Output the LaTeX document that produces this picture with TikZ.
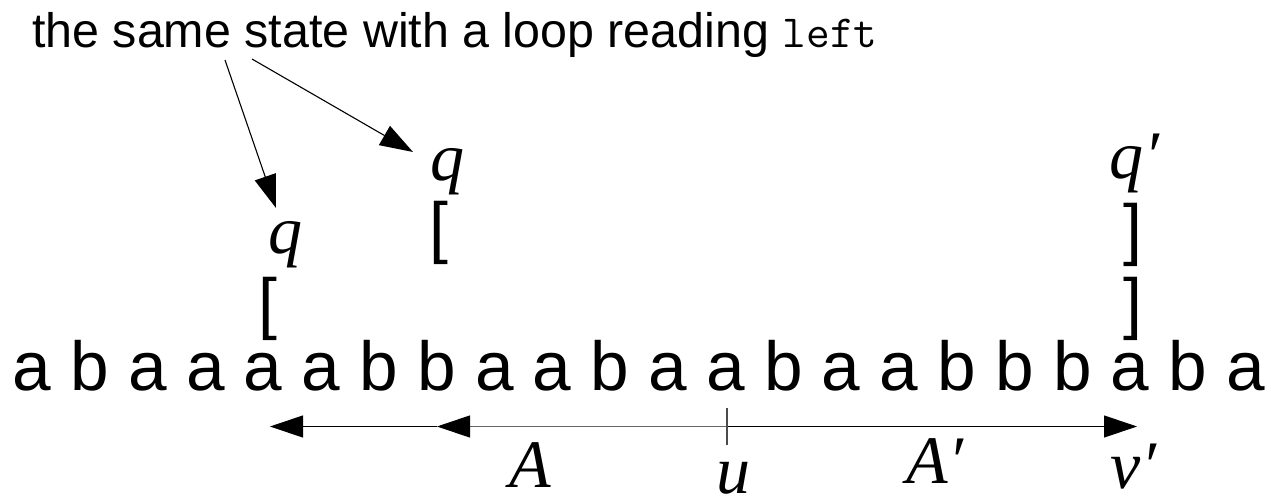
\documentclass[tikz,border=0pt]{standalone}
\usepackage{fontspec}
\setmainfont{Liberation Sans}
\newfontfamily\tmsfont{Liberation Serif}
\usetikzlibrary{arrows.meta}
\begin{document}
\begin{tikzpicture}[x=1pt,y=-1pt,
  letter/.style={anchor=base,inner sep=0pt,font=\fontsize{69.3}{80}\selectfont},
  brk/.style={anchor=base,inner sep=0pt,font=\fontsize{68}{80}\selectfont},
  mlbl/.style={anchor=base,inner sep=0pt,font=\tmsfont\itshape\fontsize{68}{80}\selectfont},
  ptr/.style={line width=1.1pt,-{Triangle[length=33pt,width=22pt,color=black]}},
  tickline/.style={line width=1.1pt,black!70}]
\useasboundingbox (0,0) rectangle (1271,501);
% caption
\node[anchor=base west,inner sep=0pt,font=\fontsize{48.4}{56}\selectfont] (txt) at (32,47)
  {the same state with a loop reading {\ttfamily\fontsize{46}{52}\selectfont left}};
% word
\foreach \c [count=\i] in {a,b,a,a,a,a,b,b,a,a,b,a,a,b,a,a,b,b,b,a,b,a}
  {\node[letter] (l\i) at ({32+(\i-1)*57.8},390) {\c};}
% brackets
\node[brk] (bl1) at (268,326.7) {[};
\node[brk] (bl2) at (439,250.7) {[};
\node[brk] (br2) at (1133,252.5) {]};
\node[brk] (br1) at (1133,326.5) {]};
% states
\node[mlbl] (q1) at (285,253) {q};
\node[mlbl] (q2) at (447,180) {q};
\node[mlbl,anchor=base west] (q3) at (1109,178) {q\kern1pt\char"2032};
% labels
\node[mlbl] (A) at (530,487) {A};
\node[mlbl,anchor=base west] (A2) at (906,483) {A\kern1pt\char"2032};
\node[mlbl] (u) at (733,493) {u};
\node[mlbl,anchor=base west] (v2) at (1110,488) {v\kern1pt\char"2032};
% pointers from caption
\coordinate (s1) at (225,60); \coordinate (t1) at (276,208);
\coordinate (s2) at (252,59); \coordinate (t2) at (413,152);
\draw[ptr] (s1) -- (t1);
\draw[ptr] (s2) -- (t2);
% bottom arrows
\coordinate (ua) at (727,426.5);
\coordinate (tu) at (727,408);
\coordinate (tb) at (727,445);
\coordinate (hA) at (437,426.5);
\coordinate (hL) at (270,426.5);
\coordinate (hR) at (1137,426.5);
\draw[ptr] (hA) -- (hL);
\draw[ptr,black!60] (ua) -- (hA);
\draw[ptr] (ua) -- (hR);
\draw[tickline] (tu) -- (tb);
\end{tikzpicture}
\end{document}
